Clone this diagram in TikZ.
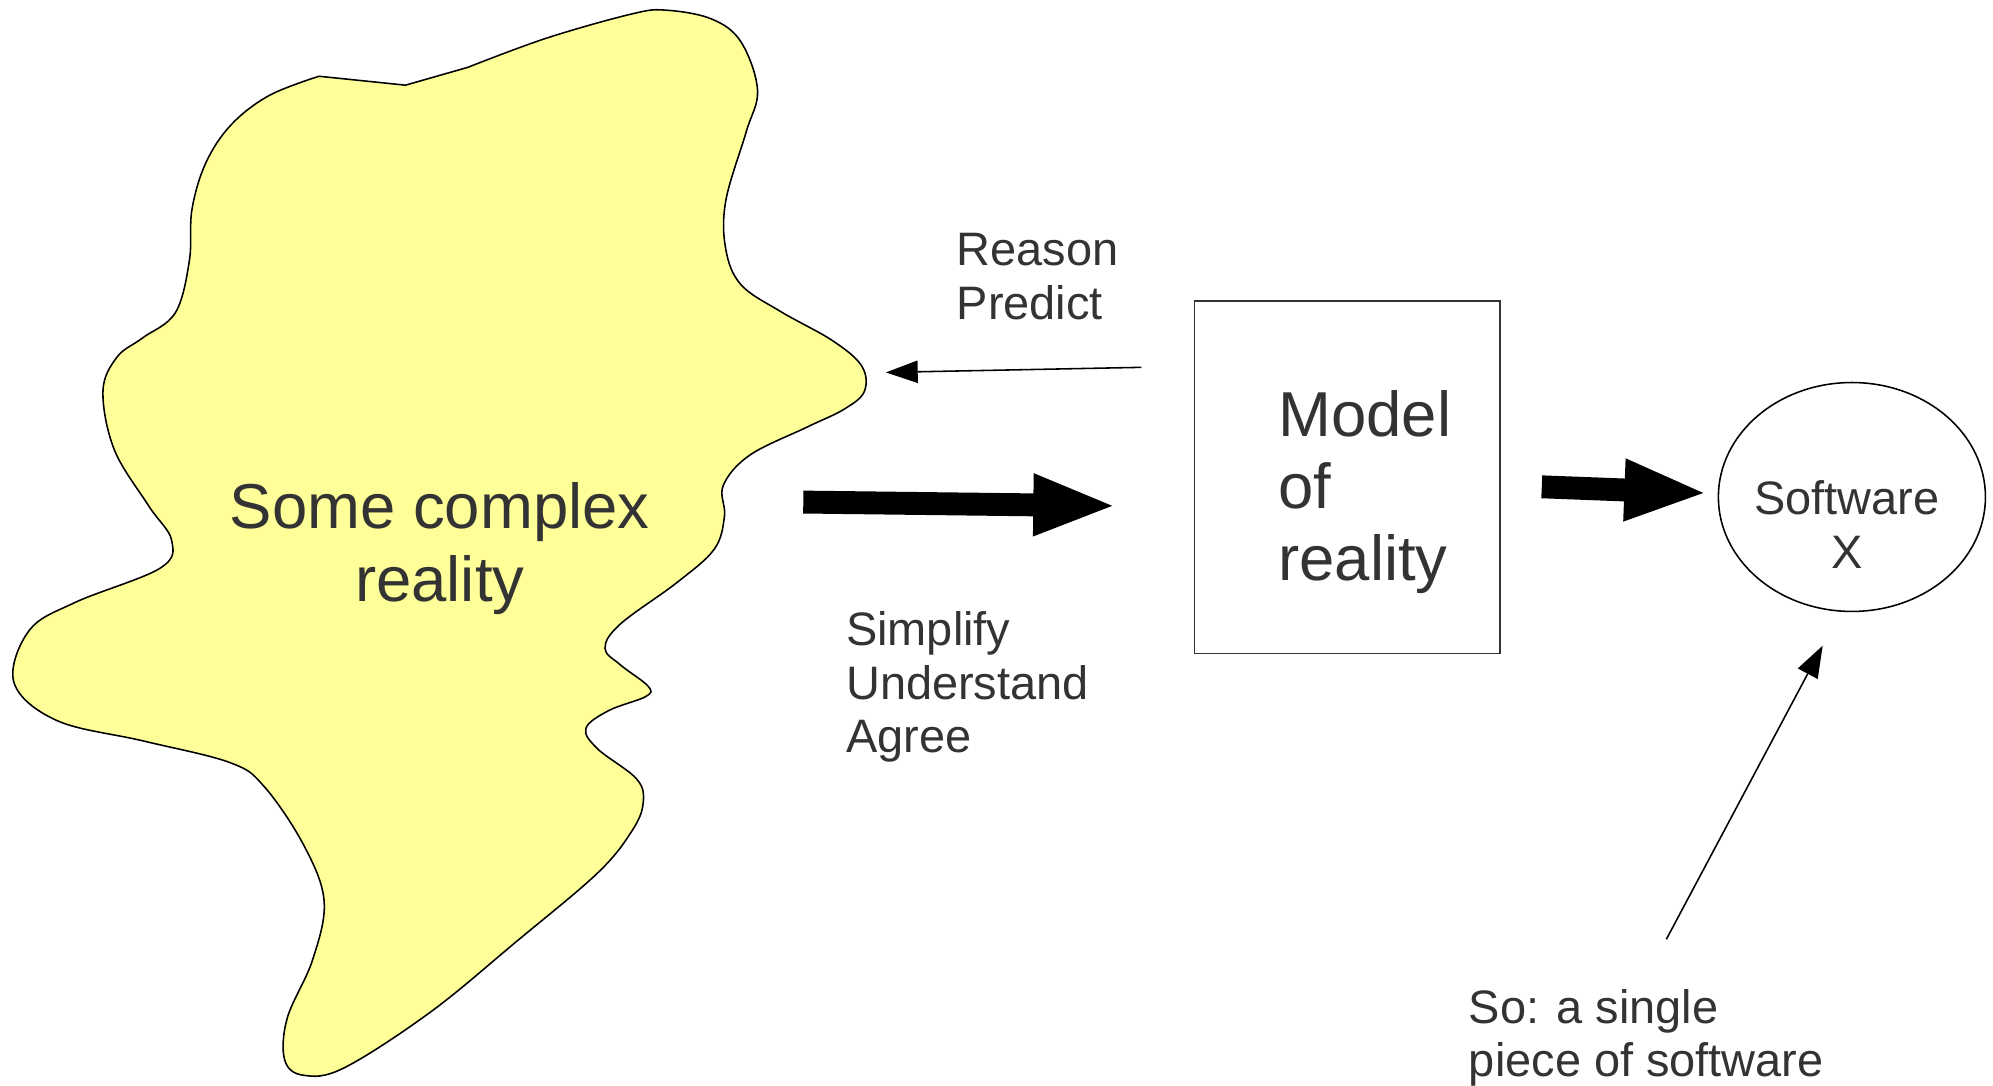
\documentclass[tikz,border=0pt]{standalone}
\usepackage{fontspec}
\setmainfont{Liberation Sans}
\usetikzlibrary{arrows.meta,shapes.geometric}
\definecolor{txt}{HTML}{333333}
\definecolor{blobfill}{HTML}{FFFF99}
\begin{document}
\begin{tikzpicture}[x=0.01cm,y=-0.01cm,
  bigtext/.style={font=\fontsize{14.2}{16.2}\selectfont, text=txt, inner sep=0pt},
  smalltext/.style={font=\fontsize{10.5}{11.95}\selectfont, text=txt, inner sep=0pt},
  thinarrow/.style={line width=0.35pt, -{Triangle[length=0.25cm,width=0.175cm]}},
  thickarrow/.style={line width=0.18cm, -{Triangle[length=0.66cm,width=0.44cm]}},
  outline/.style={draw=black, line width=0.35pt},
]
\useasboundingbox (0,0) rectangle (1568,854);

% blob
\path[outline, fill=blobfill] (251,60) -- (319,67) -- (368,53) -- plot[smooth, tension=0.6] coordinates {
 (368,53) (430,30) (497,11) (524,8) (560,15) (583,33) (596,71) (587,104) (571,158) (571,196)
 (583,224) (614,245) (655,268) (678,288) (680,308) (664,322) (635,336) (590,358) (569,382) (570,406)
 (562,432) (533,458) (488,491) (476,510) (488,523) (510,540) (508,548) (479,559) (461,573)
 (470,589) (501,613) (506,632) (497,654) (470,687) (406,741) (339,796) (271,840) (239,846)
 (224,834) (226,801) (246,755) (255,709) (239,665) (208,619) (181,600) (113,583) (45,567)
 (11,537) (23,496) (59,474) (126,447) (135,425) (117,398) (90,354) (81,308) (92,281)
 (112,266) (138,246) (149,205) (151,165) (162,128) (182,98) (212,75) (251,60)} -- cycle;

\node[bigtext, anchor=base, align=center] (blobtext) at (346,473) {Some complex\\reality};

% model box
\node[outline, draw=txt, minimum width=2.4cm, minimum height=2.77cm, inner sep=0pt] (model) at (1060,375.5) {};
\node[bigtext, anchor=base west, align=left] (modeltext) at (1005,457) {Model\\of\\reality};

% software ellipse
\node[outline, ellipse, minimum width=2.1cm, minimum height=1.8cm, inner sep=0pt] (soft) at (1457,391) {};
\node[smalltext, anchor=base, align=center] (softtext) at (1453,447) {Software\\X};

% labels
\node[smalltext, anchor=base west, align=left] (reason) at (752,251) {Reason\\Predict};
\node[smalltext, anchor=base west, align=left] (simplify) at (665,592) {Simplify\\Understand\\Agree};
\node[smalltext, anchor=base west, align=left] (note) at (1155,847) {So: a single\\piece of software};

% arrows
\coordinate (r1) at (898,289); \coordinate (r2) at (697,293);
\draw[thinarrow] (r1) -- (r2);
\coordinate (s1) at (632,395); \coordinate (s2) at (879,398);
\draw[thickarrow] (s1) -- (s2);
\coordinate (m1) at (1213,383); \coordinate (m2) at (1344,388);
\draw[thickarrow] (m1) -- (m2);
\coordinate (n1) at (1311,739); \coordinate (n2) at (1434,508);
\draw[thinarrow] (n1) -- (n2);
\end{tikzpicture}
\end{document}
